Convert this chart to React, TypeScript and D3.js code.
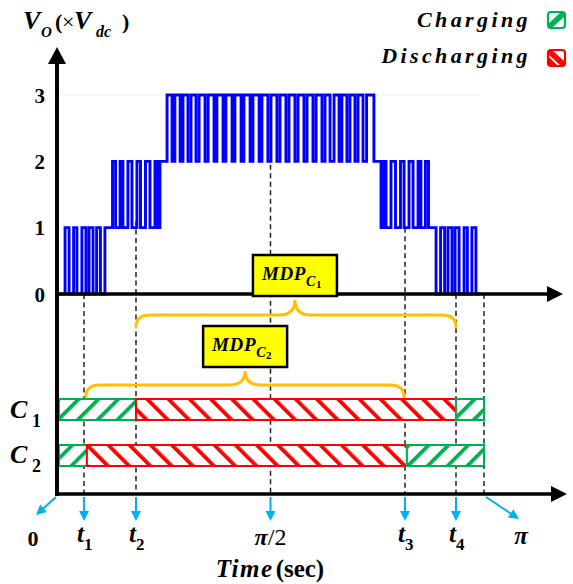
import React from 'react';
import * as d3 from 'd3';

// ---------- data ----------
const levelTicks = [0, 1, 2, 3];

// Output voltage step points: [angle in degrees, level after edge]
const voStart: [number, number][] = [[0, 0]];
const voBand1Up: [number, number][] = [[3.4, 1], [5.1, 0], [7.0, 1], [8.4, 0], [10.5, 1], [12.2, 0], [13.5, 1], [15.2, 0], [16.7, 1], [18.3, 0], [20.2, 1]];
const voBand2Up: [number, number][] = [[23.4, 2], [24.7, 1], [26.6, 2], [27.8, 1], [29.9, 2], [31.6, 1], [33.7, 2], [35.2, 1], [37.3, 2], [39.2, 1], [41.3, 2], [42.4, 1], [43.4, 2]];
const voBand3: [number, number][] = [[46.4, 3], [48.5, 2], [49.7, 3], [51.9, 2], [53.1, 3], [55.2, 2], [56.5, 3], [58.6, 2], [59.9, 3], [62.4, 2], [63.7, 3], [66.2, 2], [67.4, 3], [70.0, 2], [71.2, 3], [73.8, 2], [75.0, 3], [77.6, 2], [78.8, 3], [81.4, 2], [82.6, 3], [85.2, 2], [86.4, 3], [88.9, 2], [90.2, 3], [92.7, 2], [94.0, 3], [96.5, 2], [97.8, 3], [100.3, 2], [101.6, 3], [104.1, 2], [105.4, 3], [107.9, 2], [109.2, 3], [111.7, 2], [113.0, 3], [115.1, 2], [116.8, 3], [118.9, 2], [120.1, 3], [122.2, 2], [123.5, 3], [125.6, 2], [126.9, 3], [129.0, 2], [130.5, 3], [133.6, 2]];
const voBand2Down: [number, number][] = [[136.6, 1], [137.6, 2], [138.7, 1], [140.8, 2], [142.7, 1], [144.8, 2], [146.3, 1], [148.4, 2], [150.1, 1], [152.2, 2], [153.4, 1], [155.3, 2], [156.6, 1]];
const voBand1Down: [number, number][] = [[159.8, 0], [161.7, 1], [163.4, 0], [164.8, 1], [166.5, 0], [167.8, 1], [169.5, 0], [171.6, 1], [173.0, 0], [174.9, 1], [176.6, 0]];
const voEnd: [number, number][] = [[178.5, 0]];

// time marks
const markKeys = ['t1', 't2', 'pi2', 't3', 't4', 'pi'];
const markDeg = [11.4, 33.3, 90, 146.7, 168.2, 180];
const markTopLevel = [0, 1.1, 1.95, 1.0, 0, 0];

// capacitor states
const c1Start = [0.8, 33.3, 168.2];
const c1End = [33.3, 168.2, 180];
const c1Mode = ['charging', 'discharging', 'charging'];
const c2Start = [0.8, 12.6, 147.5];
const c2End = [12.6, 147.5, 180];
const c2Mode = ['charging', 'discharging', 'charging'];

// MDP annotations: brace from / to / tip (degrees)
const mdpNames = ['1', '2'];
const mdpFrom = [33.3, 12.2];
const mdpTo = [168.2, 146.3];
const mdpTip = [100.3, 79.3];

// ---------- styling ----------
const FONT = '"Liberation Serif", "Times New Roman", serif';
const BLUE = '#0000ff';
const SKY = '#00b0f0';
const GREEN = '#00b050';
const RED = '#ff0000';
const GOLD = '#ffc000';

const x = d3.scaleLinear().domain([0, 180]).range([57, 484]);
const y = d3.scaleLinear().domain([0, 3]).range([294, 95]);

const Y0 = 294;
const YB = 494;

function arrow(x1: number, y1: number, x2: number, y2: number, color: string, key: string, len = 10, hw = 5, sw = 2) {
  const dx = x2 - x1, dy = y2 - y1;
  const L = Math.hypot(dx, dy);
  const ux = dx / L, uy = dy / L;
  const bx = x2 - ux * len, by = y2 - uy * len;
  const px = -uy * hw, py = ux * hw;
  return (
    <g key={key}>
      <line x1={x1} y1={y1} x2={bx + ux * 1} y2={by + uy * 1} stroke={color} strokeWidth={sw} />
      <polygon points={`${x2},${y2} ${bx + px},${by + py} ${bx - px},${by - py}`} fill={color} />
    </g>
  );
}

function bracePath(x1: number, x2: number, xt: number, yEnd: number, yMid: number, yTip: number) {
  const r = 14;
  const rt = 16;
  return `M${x1},${yEnd} Q${x1},${yMid} ${x1 + r},${yMid} L${xt - rt},${yMid} Q${xt},${yMid} ${xt},${yTip} Q${xt},${yMid} ${xt + rt},${yMid} L${x2 - r},${yMid} Q${x2},${yMid} ${x2},${yEnd}`;
}

export default function App() {
  const voData = [...voStart, ...voBand1Up, ...voBand2Up, ...voBand3, ...voBand2Down, ...voBand1Down, ...voEnd];
  const line = d3.line<[number, number]>().x(d => x(d[0])).y(d => y(d[1])).curve(d3.curveStepAfter);

  const barRows = [
    { label: '1', start: c1Start, end: c1End, mode: c1Mode, y0: 399, h: 21, ly: 418 },
    { label: '2', start: c2Start, end: c2End, mode: c2Mode, y0: 445, h: 21, ly: 463 },
  ];

  const braceGeom = [
    { yEnd: 327, yMid: 315, yTip: 300, boxY: 255, boxH: 41 },
    { yEnd: 397, yMid: 385, yTip: 371, boxY: 326, boxH: 41 },
  ];

  return (
    <svg width={573} height={584} style={{ position: 'absolute', left: 0, top: 0, background: '#fff' }} fontFamily={FONT}>
      <defs>
        <pattern id="hatchG" patternUnits="userSpaceOnUse" width={14} height={14} patternTransform="rotate(45)">
          <rect x={0} y={0} width={14} height={14} fill="#fff" />
          <rect x={0} y={0} width={3.8} height={14} fill={GREEN} />
        </pattern>
        <pattern id="hatchR" patternUnits="userSpaceOnUse" width={15} height={15} patternTransform="rotate(-45)">
          <rect x={0} y={0} width={15} height={15} fill="#fff" />
          <rect x={0} y={0} width={3.8} height={15} fill={RED} />
        </pattern>
        <clipPath id="iconG"><rect x={548} y={12} width={17} height={16} rx={3} /></clipPath>
        <clipPath id="iconR"><rect x={548} y={50} width={17} height={16} rx={3} /></clipPath>
      </defs>

      {/* faint top guide */}
      <line x1={62} x2={480} y1={y(3)} y2={y(3)} stroke="#eeeeee" strokeWidth={1} />

      {/* dashed marker lines */}
      {markDeg.map((d, i) => (
        <line key={'dash' + markKeys[i]} x1={x(d)} x2={x(d)} y1={markTopLevel[i] === 0 ? Y0 : y(markTopLevel[i])} y2={YB}
          stroke="#222" strokeWidth={1.5} strokeDasharray="5,3.5" />
      ))}

      {/* waveform */}
      <path d={line(voData) || ''} fill="none" stroke={BLUE} strokeWidth={2.9} />

      {/* upper axis */}
      <line x1={55} x2={549} y1={Y0} y2={Y0} stroke="#000" strokeWidth={3.5} />
      <polygon points={`563,${Y0} 547,${Y0 - 8} 547,${Y0 + 8}`} fill="#000" />

      {/* braces */}
      {mdpNames.map((n, i) => (
        <path key={'brace' + n} d={bracePath(x(mdpFrom[i]), x(mdpTo[i]), x(mdpTip[i]), braceGeom[i].yEnd, braceGeom[i].yMid, braceGeom[i].yTip)}
          fill="none" stroke={GOLD} strokeWidth={3} strokeLinecap="round" />
      ))}

      {/* MDP boxes */}
      {mdpNames.map((n, i) => {
        const cx = x(mdpTip[i]);
        const g = braceGeom[i];
        return (
          <g key={'box' + n}>
            <rect x={cx - 42} y={g.boxY} width={84} height={g.boxH} fill="#ffff00" stroke="#000" strokeWidth={2.5} />
            <text x={cx - 33} y={g.boxY + 25} fontSize={19} fontWeight="bold" fontStyle="italic" letterSpacing={0.6}>
              MDP
              <tspan fontSize={14} dy={6}>C</tspan>
              <tspan fontSize={11} dy={2} fontStyle="normal">{n}</tspan>
            </text>
          </g>
        );
      })}

      {/* capacitor bars */}
      {barRows.map(row => (
        <g key={'row' + row.label}>
          {row.start.map((s, i) => {
            const ch = row.mode[i] === 'charging';
            return (
              <rect key={i} x={x(s)} y={row.y0} width={x(row.end[i]) - x(s)} height={row.h}
                fill={ch ? 'url(#hatchG)' : 'url(#hatchR)'} stroke={ch ? GREEN : RED} strokeWidth={2} />
            );
          })}
          <text x={10} y={row.ly} fontSize={26} fontWeight="bold" fontStyle="italic">C</text>
          <text x={32} y={row.ly + 9} fontSize={18} fontWeight="bold">{row.label}</text>
        </g>
      ))}

      {/* left axis */}
      <line x1={57} x2={57} y1={YB + 2} y2={60} stroke="#000" strokeWidth={4} />
      <polygon points={`57,47 48,64 66,64`} fill="#000" />

      {/* bottom axis */}
      <line x1={55} x2={553} y1={YB} y2={YB} stroke="#000" strokeWidth={3.5} />
      <polygon points={`567,${YB} 551,${YB - 8} 551,${YB + 8}`} fill="#000" />

      {/* level tick labels */}
      {levelTicks.map(v => (
        <text key={'lv' + v} x={45} y={y(v)} dy="0.36em" textAnchor="end" fontSize={21} fontWeight="bold">{v}</text>
      ))}

      {/* y title */}
      <text y={29} fontSize={26} fontWeight="bold">
        <tspan x={23} fontStyle="italic">V</tspan>
        <tspan x={41} y={37} fontSize={15} fontStyle="italic">O</tspan>
        <tspan x={55} y={29} fontSize={22}>(</tspan>
        <tspan x={62} y={29} fontSize={22} fontWeight="normal">×</tspan>
        <tspan x={74} y={29} fontStyle="italic">V</tspan>
        <tspan x={96} y={37} fontSize={16} fontStyle="italic">dc</tspan>
        <tspan x={122} y={29} fontSize={22}>)</tspan>
      </text>

      {/* legend */}
      <text x={531} y={27} textAnchor="end" fontSize={22} fontWeight="bold" fontStyle="italic" letterSpacing={3.4}>Charging</text>
      <text x={531} y={63} textAnchor="end" fontSize={22} fontWeight="bold" fontStyle="italic" letterSpacing={3.4}>Discharging</text>
      <g clipPath="url(#iconG)">
        <rect x={548} y={12} width={17} height={16} fill="#fff" />
        <polygon points="548,28 548,24 561,12 565,12 565,16 552,28" fill={GREEN} />
      </g>
      <rect x={548} y={12} width={17} height={16} rx={3} fill="none" stroke={GREEN} strokeWidth={2.2} />
      <g clipPath="url(#iconR)">
        <rect x={548} y={50} width={17} height={16} fill="#fff" />
        <polygon points="548,50 552,50 565,62 565,66 561,66 548,54" fill={RED} />
        <polygon points="548,56 548,66 558,66" fill={RED} />
      </g>
      <rect x={548} y={50} width={17} height={16} rx={3} fill="none" stroke={RED} strokeWidth={2.2} />

      {/* bottom blue arrows */}
      {markDeg.slice(0, 5).map((d, i) => arrow(x(d), YB + 3, x(d), 521, SKY, 'ar' + markKeys[i]))}
      {arrow(56, YB + 3, 36, 515, SKY, 'ar0')}
      {arrow(486, YB + 3, 519, 519, SKY, 'arpi')}

      {/* bottom labels */}
      <text x={33} y={546} textAnchor="middle" fontSize={22} fontWeight="bold">0</text>
      {[0, 1, 3, 4].map(i => (
        <text key={'tl' + i} x={x(markDeg[i]) - 7} y={542} fontSize={25} fontWeight="bold" fontStyle="italic">
          t<tspan fontSize={17} dy={8} fontStyle="normal">{markKeys[i].slice(1)}</tspan>
        </text>
      ))}
      <text x={x(90)} y={545} textAnchor="middle" fontSize={24}>
        <tspan fontWeight="bold" fontStyle="italic">π</tspan>
        <tspan>/2</tspan>
      </text>
      <text x={521} y={544} textAnchor="middle" fontSize={25} fontWeight="bold" fontStyle="italic">π</text>

      {/* x title */}
      <text x={270} y={577} textAnchor="middle" fontSize={25} fontWeight="bold">
        <tspan fontStyle="italic" letterSpacing={1.5}>Time</tspan>
        <tspan dx={2}>(sec)</tspan>
      </text>
    </svg>
  );
}
